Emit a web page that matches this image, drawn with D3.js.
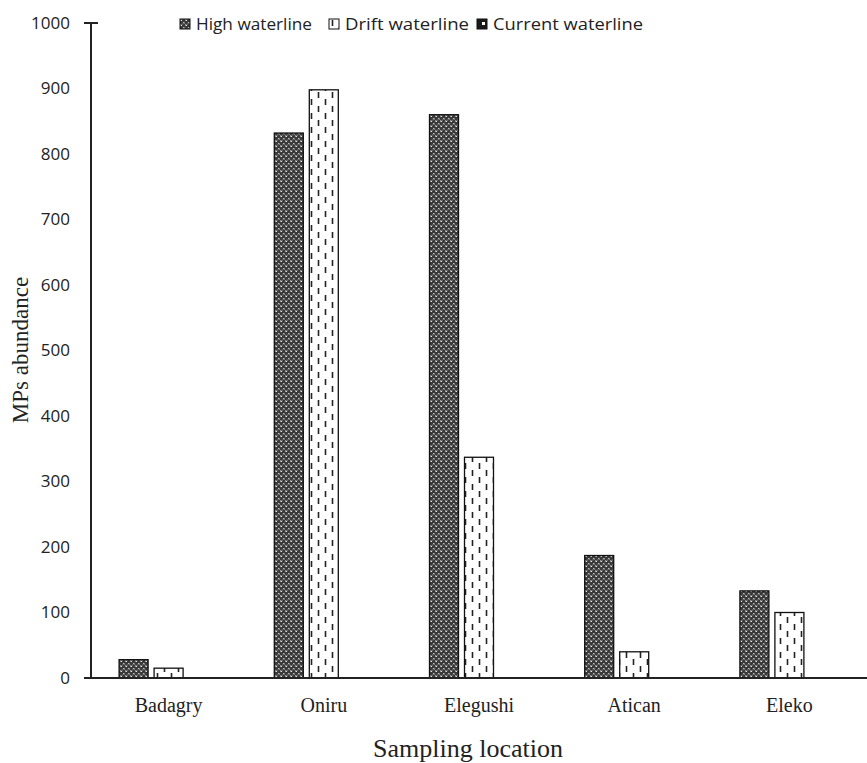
<!DOCTYPE html>
<html><head><meta charset="utf-8">
<script src="https://cdn.jsdelivr.net/npm/d3@7"></script>
<style>body{margin:0;background:#fff}</style>
</head><body><svg id="c" width="867" height="763"></svg>
<script>
const categories = ["Badagry","Oniru","Elegushi","Atican","Eleko"];
const seriesNames = ["High waterline","Drift waterline","Current waterline"];
const highValues = [28, 832, 860, 187, 133];
const driftValues = [15, 898, 337, 40, 100];
const currentValues = [0, 0, 0, 0, 0];
const yTicks = [0,100,200,300,400,500,600,700,800,900,1000];

const svg = d3.select("#c");
const M = {l:91, r:867, t:23, b:678};
const x = d3.scaleBand().domain(categories).range([M.l, M.r]);
const y = d3.scaleLinear().domain([0,1000]).range([M.b, M.t]);
const barW = 29, gap = 6;
const xs = d3.scaleBand().domain(seriesNames).range([0, 3*barW + 2*gap]).paddingInner(gap/(barW+gap));

const defs = svg.append("defs");
const ph = defs.append("pattern").attr("id","pHigh").attr("patternUnits","userSpaceOnUse").attr("width",5).attr("height",5);
ph.append("rect").attr("width",5).attr("height",5).attr("fill","#3a3a3a");
ph.append("path").attr("d","M0.5,0.5L2,2M2,0.5L0.5,2").attr("stroke","#e8e8e8").attr("stroke-width",1);
ph.append("path").attr("d","M3,3L4.5,4.5M4.5,3L3,4.5").attr("stroke","#bbbbbb").attr("stroke-width",1);
const pd = defs.append("pattern").attr("id","pDrift").attr("patternUnits","userSpaceOnUse").attr("width",14).attr("height",14);
pd.append("rect").attr("width",14).attr("height",14).attr("fill","#fff");
pd.append("line").attr("x1",3.5).attr("x2",3.5).attr("y1",1).attr("y2",7).attr("stroke","#222").attr("stroke-width",1.6);
pd.append("line").attr("x1",10.5).attr("x2",10.5).attr("y1",8).attr("y2",14).attr("stroke","#222").attr("stroke-width",1.6);
const pc = defs.append("pattern").attr("id","pCur").attr("patternUnits","userSpaceOnUse").attr("width",10).attr("height",10);
pc.append("rect").attr("width",10).attr("height",10).attr("fill","#1a1a1a");
pc.append("rect").attr("x",5).attr("y",3).attr("width",3).attr("height",3).attr("fill","#fff");

const fills = {"High waterline":"url(#pHigh)","Drift waterline":"url(#pDrift)","Current waterline":"url(#pCur)"};
const valuesBy = {"High waterline":highValues,"Drift waterline":driftValues,"Current waterline":currentValues};

const yAxis = d3.axisLeft(y).tickValues(yTicks).tickFormat(d3.format("d")).tickSize(0).tickPadding(21);
const gy = svg.append("g").attr("transform",`translate(${M.l},0)`).call(yAxis);
gy.select(".domain").remove();
gy.selectAll("text").attr("font-family","'Open Sans', 'Noto Sans', sans-serif").attr("font-size",17).attr("fill","#222");

categories.forEach((c,i)=>{
  const off = x(c) + (x.bandwidth() - (3*barW+2*gap))/2;
  seriesNames.forEach(s=>{
    const v = valuesBy[s][i];
    if (v<=0) return;
    svg.append("rect")
      .attr("x", off + xs(s)).attr("y", y(v))
      .attr("width", xs.bandwidth()).attr("height", y(0)-y(v))
      .attr("fill", fills[s]).attr("stroke","#111").attr("stroke-width",1.3);
  });
});

svg.append("line").attr("x1",M.l).attr("x2",M.l).attr("y1",M.t).attr("y2",M.b).attr("stroke","#222").attr("stroke-width",2);
svg.append("line").attr("x1",M.l-7).attr("x2",M.l+7).attr("y1",M.t).attr("y2",M.t).attr("stroke","#222").attr("stroke-width",2);
svg.append("line").attr("x1",M.l-7).attr("x2",M.r).attr("y1",M.b).attr("y2",M.b).attr("stroke","#222").attr("stroke-width",2.2);

const xAxis = d3.axisBottom(x).tickSize(0).tickPadding(20);
const gx = svg.append("g").attr("transform",`translate(0,${M.b})`).call(xAxis);
gx.select(".domain").remove();
gx.selectAll("text").attr("font-family","'Liberation Serif','Times New Roman',serif").attr("font-size",20).attr("fill","#222");

svg.append("text").attr("x",468).attr("y",757).attr("text-anchor","middle")
  .attr("font-family","'Liberation Serif','Times New Roman',serif").attr("font-size",26).attr("fill","#222").text("Sampling location");
svg.append("text").attr("transform","translate(28,350) rotate(-90)").attr("text-anchor","middle")
  .attr("font-family","'Liberation Serif','Times New Roman',serif").attr("font-size",23).attr("fill","#222").text("MPs abundance");

const legX = [180, 329, 477];
const legW = [116, 124, 150];
const lg = svg.append("g");
seriesNames.forEach((s,i)=>{
  const g = lg.append("g").attr("transform",`translate(${legX[i]},19)`);
  g.append("rect").attr("width",10).attr("height",10).attr("fill",fills[s]).attr("stroke","#111").attr("stroke-width",1);
  g.append("text").attr("x",16).attr("y",11).attr("font-family","'Open Sans','Noto Sans',sans-serif").attr("font-size",16)
    .attr("textLength",legW[i]).attr("lengthAdjust","spacingAndGlyphs").attr("fill","#222").text(s);
});
</script></body></html>
